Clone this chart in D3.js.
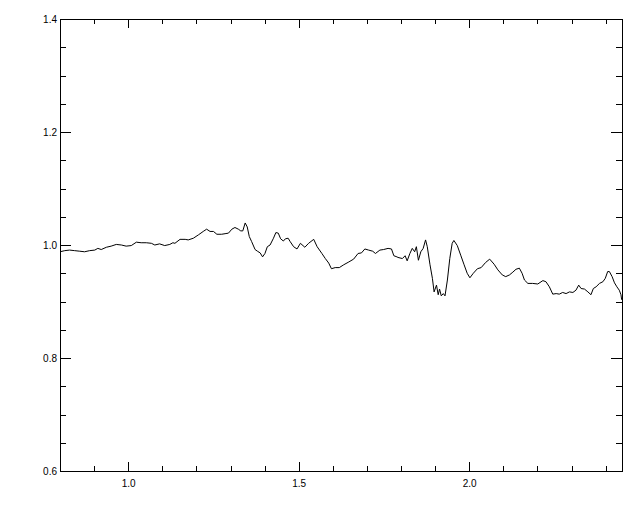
<!DOCTYPE html>
<html>
<head>
<meta charset="utf-8">
<script src="https://cdn.jsdelivr.net/npm/d3@7"></script>
<style>
  html, body { margin: 0; padding: 0; background: #fff; }
  svg { display: block; }
  text { font-family: "Liberation Sans", Arial, Helvetica, sans-serif; font-size: 10px; fill: #000; }
</style>
</head>
<body>
<svg id="chart" width="640" height="512"></svg>
<script>
// Wavelength (x) values
const xValues = [
  0.800, 0.814, 0.828, 0.843, 0.858, 0.872, 0.887, 0.902, 0.911, 0.921,
  0.936, 0.950, 0.965, 0.980, 0.994, 1.009, 1.024, 1.038, 1.053, 1.068,
  1.078, 1.092, 1.107, 1.122, 1.131,
  1.137, 1.152, 1.167, 1.176, 1.191, 1.206, 1.220, 1.230, 1.240, 1.250,
  1.260, 1.274, 1.284, 1.294, 1.304, 1.313, 1.323, 1.330, 1.336, 1.343,
  1.349, 1.355, 1.362, 1.372, 1.379, 1.387, 1.394, 1.401, 1.408, 1.416,
  1.426, 1.433, 1.440, 1.447, 1.455,
  1.461, 1.469, 1.475, 1.485, 1.495, 1.505, 1.518, 1.529, 1.544, 1.554,
  1.568, 1.578, 1.588, 1.596, 1.607, 1.619, 1.632, 1.647, 1.661, 1.674,
  1.684, 1.694, 1.705, 1.717, 1.725, 1.738, 1.749, 1.762, 1.772, 1.779,
  1.788,
  1.791, 1.804, 1.812, 1.818, 1.826, 1.833, 1.840, 1.845, 1.851, 1.858,
  1.865, 1.872, 1.877, 1.885, 1.892, 1.897, 1.904, 1.909, 1.913, 1.918,
  1.924, 1.929, 1.936, 1.943, 1.950, 1.955, 1.965, 1.975, 1.985, 1.994,
  2.002, 2.012, 2.024, 2.035, 2.048, 2.060, 2.073, 2.084, 2.097, 2.107,
  2.118,
  2.128, 2.137, 2.147, 2.155, 2.162, 2.172, 2.186, 2.201, 2.216, 2.225,
  2.235, 2.245, 2.255, 2.264, 2.274, 2.284, 2.294, 2.304, 2.313, 2.321,
  2.328, 2.338, 2.348, 2.357, 2.364, 2.372, 2.382, 2.392, 2.399, 2.406,
  2.411, 2.419, 2.426, 2.433, 2.440, 2.445, 2.447
];

// Ratio (y) values
const yValues = [
  0.988, 0.990, 0.991, 0.990, 0.989, 0.988, 0.990, 0.991, 0.994, 0.992,
  0.996, 0.998, 1.001, 1.000, 0.998, 0.999, 1.005, 1.004, 1.004, 1.003,
  1.000, 1.002, 0.999, 1.001, 1.004,
  1.003, 1.010, 1.010, 1.009, 1.012, 1.018, 1.024, 1.028, 1.024, 1.024,
  1.019, 1.019, 1.020, 1.021, 1.028, 1.031, 1.028, 1.025, 1.025, 1.039,
  1.032, 1.015, 1.006, 0.992, 0.989, 0.986, 0.979, 0.985, 0.997, 1.000,
  1.012, 1.022, 1.021, 1.011, 1.007,
  1.011, 1.012, 1.006, 0.997, 0.993, 1.003, 0.996, 1.003, 1.010, 0.997,
  0.985, 0.976, 0.968, 0.958, 0.960, 0.960, 0.965, 0.970, 0.975, 0.985,
  0.986, 0.993, 0.991, 0.989, 0.985, 0.991, 0.992, 0.994, 0.993, 0.981,
  0.979,
  0.978, 0.976, 0.981, 0.972, 0.985, 0.994, 0.988, 0.997, 0.973, 0.988,
  0.994, 1.009, 0.997, 0.965, 0.941, 0.917, 0.929, 0.912, 0.922, 0.910,
  0.914, 0.910, 0.938, 0.976, 1.003, 1.008, 0.999, 0.982, 0.965, 0.950,
  0.942, 0.950, 0.958, 0.960, 0.969, 0.975, 0.966, 0.956, 0.947, 0.944,
  0.947,
  0.952, 0.957, 0.959, 0.950, 0.938, 0.932, 0.932, 0.931, 0.937, 0.935,
  0.926, 0.913, 0.914, 0.913, 0.916, 0.914, 0.917, 0.916, 0.920, 0.929,
  0.923, 0.922, 0.917, 0.912, 0.923, 0.926, 0.932, 0.935, 0.941, 0.953,
  0.953, 0.944, 0.933, 0.926, 0.920, 0.912, 0.903
];

const xMajorTicks = [1.0, 1.5, 2.0];
const xMinorTicks = [0.9, 1.1, 1.2, 1.3, 1.4, 1.6, 1.7, 1.8, 1.9, 2.1, 2.2, 2.3, 2.4];
const yMajorTicks = [0.6, 0.8, 1.0, 1.2, 1.4];
const yMinorTicks = [0.65, 0.7, 0.75, 0.85, 0.9, 0.95, 1.05, 1.1, 1.15, 1.25, 1.3, 1.35];

const xDomain = [0.8, 2.448];
const yDomain = [0.6, 1.4];

const L = 60, R = 622, T = 19, B = 471;
const svg = d3.select("#chart");

const x = d3.scaleLinear().domain(xDomain).range([L, R]);
const y = d3.scaleLinear().domain(yDomain).range([B, T]);

const fmt = d3.format(".1f");

function styleAxis(g, labels) {
  g.select(".domain").remove();
  g.selectAll("line").attr("stroke", "#000").attr("stroke-width", 1).attr("shape-rendering", "crispEdges");
  if (!labels) g.selectAll("text").remove();
}

// Bottom axis
svg.append("g").attr("transform", `translate(0,${B})`)
  .call(d3.axisBottom(x).tickValues(xMajorTicks).tickSizeInner(-9).tickSizeOuter(0).tickFormat(fmt))
  .call(g => styleAxis(g, true))
  .call(g => g.selectAll("text").attr("font-size", 10).attr("font-family", "Liberation Sans, Arial, sans-serif").attr("fill", "#000").attr("y", 9));
svg.append("g").attr("transform", `translate(0,${B})`)
  .call(d3.axisBottom(x).tickValues(xMinorTicks).tickSizeInner(-5).tickSizeOuter(0).tickFormat(""))
  .call(g => styleAxis(g, false));

// Top axis
svg.append("g").attr("transform", `translate(0,${T})`)
  .call(d3.axisTop(x).tickValues(xMajorTicks).tickSizeInner(-9).tickSizeOuter(0).tickFormat(""))
  .call(g => styleAxis(g, false));
svg.append("g").attr("transform", `translate(0,${T})`)
  .call(d3.axisTop(x).tickValues(xMinorTicks).tickSizeInner(-5).tickSizeOuter(0).tickFormat(""))
  .call(g => styleAxis(g, false));

// Left axis
svg.append("g").attr("transform", `translate(${L},0)`)
  .call(d3.axisLeft(y).tickValues(yMajorTicks).tickSizeInner(-11).tickSizeOuter(0).tickFormat(fmt))
  .call(g => styleAxis(g, true))
  .call(g => g.selectAll("text").attr("font-size", 10).attr("font-family", "Liberation Sans, Arial, sans-serif").attr("fill", "#000").attr("x", -3));
svg.append("g").attr("transform", `translate(${L},0)`)
  .call(d3.axisLeft(y).tickValues(yMinorTicks).tickSizeInner(-6).tickSizeOuter(0).tickFormat(""))
  .call(g => styleAxis(g, false));

// Right axis
svg.append("g").attr("transform", `translate(${R},0)`)
  .call(d3.axisRight(y).tickValues(yMajorTicks).tickSizeInner(-11).tickSizeOuter(0).tickFormat(""))
  .call(g => styleAxis(g, false));
svg.append("g").attr("transform", `translate(${R},0)`)
  .call(d3.axisRight(y).tickValues(yMinorTicks).tickSizeInner(-6).tickSizeOuter(0).tickFormat(""))
  .call(g => styleAxis(g, false));

// Frame
svg.append("rect")
  .attr("x", x(xDomain[0]) + 0.5).attr("y", y(yDomain[1]) + 0.5)
  .attr("width", x(xDomain[1]) - x(xDomain[0])).attr("height", y(yDomain[0]) - y(yDomain[1]))
  .attr("fill", "none").attr("stroke", "#000").attr("stroke-width", 1);

// Line
const data = xValues.map((v, i) => [v, yValues[i]]);
const clipId = "plotclip";
svg.append("clipPath").attr("id", clipId).append("rect")
  .attr("x", L).attr("y", T).attr("width", R - L + 1).attr("height", B - T + 1);
svg.append("path")
  .datum(data)
  .attr("clip-path", `url(#${clipId})`)
  .attr("fill", "none")
  .attr("stroke", "#000")
  .attr("stroke-width", 1)
  .attr("stroke-linejoin", "round")
  .attr("d", d3.line().x(d => x(d[0])).y(d => y(d[1])));
</script>
</body>
</html>
